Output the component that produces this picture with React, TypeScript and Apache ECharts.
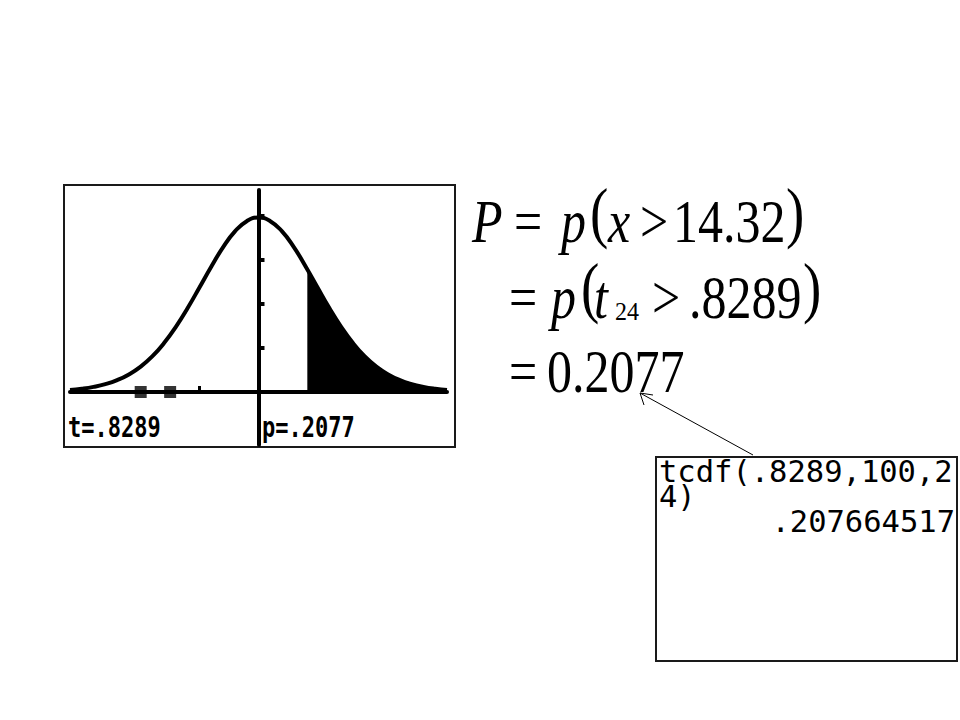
import React, { useEffect, useRef } from "react";
import * as echarts from "echarts";

// t values (graph screen, window -3.2 .. 3.2) and the density
const tValues = [
  -3.2, -3.0, -2.8, -2.6, -2.4, -2.2, -2.0, -1.8, -1.6, -1.4, -1.2, -1.0, -0.8, -0.6, -0.4, -0.2,
  0, 0.2, 0.4, 0.6, 0.8, 1.0, 1.2, 1.4, 1.6, 1.8, 2.0, 2.2, 2.4, 2.6, 2.8, 3.0, 3.2,
];
const densityValues = [
  0.0047, 0.0074, 0.0116, 0.0178, 0.0269, 0.0399, 0.0577, 0.0814, 0.1117, 0.1486, 0.1913, 0.238,
  0.2853, 0.3291, 0.3648, 0.3882, 0.3964, 0.3882, 0.3648, 0.3291, 0.2853, 0.238, 0.1913, 0.1486,
  0.1117, 0.0814, 0.0577, 0.0399, 0.0269, 0.0178, 0.0116, 0.0074, 0.0047,
];
const shadeStartT = 0.8289;
const shadeStartDensity = 0.2786;
const xTickValues = [-1];
const squareMarks = [-2, -1.5];
const yTickValues = [0.1, 0.2, 0.3, 0.4];
const tLabel = "t=.8289";
const pLabel = "p=.2077";
const calcLines = ["tcdf(.8289,100,2", "4)", ".207664517"];

const SERIF = "'Liberation Serif', 'Times New Roman', serif";
const MONO = "'DejaVu Sans Mono', 'Liberation Mono', monospace";

type TOpts = {
  fs: number;
  sy?: number;
  sx?: number;
  family?: string;
  italic?: boolean;
  bold?: boolean;
  align?: string;
  lh?: number;
};

const txt = (text: string, x: number, y: number, o: TOpts) => ({
  type: "text",
  x,
  y,
  scaleX: o.sx ?? 1,
  scaleY: o.sy ?? 1,
  silent: true,
  style: {
    text,
    x: 0,
    y: 0,
    fill: "#000",
    fontSize: o.fs,
    fontFamily: o.family ?? SERIF,
    fontStyle: o.italic ? "italic" : "normal",
    fontWeight: o.bold ? "bold" : "normal",
    align: o.align ?? "left",
    textAlign: o.align ?? "left",
    verticalAlign: "middle",
    textVerticalAlign: "middle",
    ...(o.lh ? { lineHeight: o.lh } : {}),
  },
});

export default function App() {
  const ref = useRef<HTMLDivElement>(null);

  useEffect(() => {
    if (!ref.current) return;
    const chart = echarts.init(ref.current, undefined, { renderer: "svg" });

    const curveData = tValues.map((t, i) => [t, densityValues[i]]);
    const shadeData = [[shadeStartT, shadeStartDensity]].concat(
      tValues.filter((t) => t > shadeStartT).map((t) => [t, densityValues[tValues.indexOf(t)]])
    );

    const F = 50;
    const SY = 1.22;
    const PF = 55;
    // calculator home-screen font: small size, scaled up
    const CF = 21;
    const CS = 30.5 / 21;

    const graphics: any[] = [
      // calculator graph screen frame
      {
        type: "rect",
        shape: { x: 64, y: 185, width: 391, height: 262 },
        style: { fill: "none", stroke: "#1a1a1a", lineWidth: 2 },
        silent: true,
      },
      txt(tLabel, 68, 428, { fs: 22, sy: 1.25, family: MONO, bold: true }),
      txt(pLabel, 262, 428, { fs: 22, sy: 1.25, family: MONO, bold: true }),

      // formula line 1
      txt("P", 472, 221.4, { fs: F, sy: SY, italic: true }),
      txt("=", 514, 221.4, { fs: F, sy: SY }),
      txt("p", 561, 221.4, { fs: F, sy: SY, italic: true }),
      txt("(", 590, 212, { fs: PF, sy: SY }),
      txt("x", 608, 221.4, { fs: F, sy: SY, italic: true }),
      txt(">", 640, 221.4, { fs: F, sy: SY }),
      txt("14.32", 673, 221.4, { fs: F, sy: SY }),
      txt(")", 786, 212, { fs: PF, sy: SY }),

      // formula line 2
      txt("=", 509, 297.4, { fs: F, sy: SY }),
      txt("p", 551, 297.4, { fs: F, sy: SY, italic: true }),
      txt("(", 581, 287, { fs: PF, sy: SY }),
      txt("t", 594, 297.4, { fs: F, sy: SY, italic: true }),
      txt("24", 615, 311.5, { fs: 24, sy: 1.05 }),
      txt(">", 652, 297.4, { fs: F, sy: SY }),
      txt(".8289", 689, 297.4, { fs: F, sy: SY }),
      txt(")", 803, 287, { fs: PF, sy: SY }),

      // formula line 3
      txt("=", 509, 371.4, { fs: F, sy: SY }),
      txt("0.2077", 547, 371.4, { fs: F, sy: SY }),

      // arrow
      {
        type: "line",
        shape: { x1: 753, y1: 455, x2: 640, y2: 393 },
        style: { stroke: "#000", lineWidth: 1 },
        silent: true,
      },
      {
        type: "polyline",
        shape: { points: [[653, 395], [640, 393], [644, 405]] },
        style: { stroke: "#000", lineWidth: 1, fill: "none" },
        silent: true,
      },

      // calculator home screen
      {
        type: "rect",
        shape: { x: 656, y: 457, width: 301, height: 204 },
        style: { fill: "none", stroke: "#1a1a1a", lineWidth: 2 },
        silent: true,
      },
      txt(calcLines[0], 659, 471, { fs: CF, sx: CS, sy: CS, family: MONO }),
      txt(calcLines[1], 659, 496, { fs: CF, sx: CS, sy: CS, family: MONO }),
      txt(calcLines[2], 955, 521, { fs: CF, sx: CS, sy: CS, family: MONO, align: "right" }),
    ];

    chart.setOption({
      animation: false,
      backgroundColor: "#fff",
      grid: { left: 70, right: 513, top: 190, bottom: 275, containLabel: false },
      xAxis: {
        type: "value",
        min: -3.2,
        max: 3.2,
        axisLine: { onZero: true, lineStyle: { color: "#000", width: 4 } },
        axisTick: {
          show: true,
          inside: true,
          length: 6,
          customValues: xTickValues,
          lineStyle: { color: "#000", width: 3 },
        },
        axisLabel: { show: false },
        splitLine: { show: false },
      },
      yAxis: {
        type: "value",
        min: -0.1205,
        max: 0.459,
        axisLine: { show: true, onZero: true, lineStyle: { color: "#000", width: 4 } },
        axisTick: {
          show: true,
          inside: true,
          length: 6,
          customValues: yTickValues,
          lineStyle: { color: "#000", width: 4 },
        },
        axisLabel: { show: false },
        splitLine: { show: false },
      },
      series: [
        {
          type: "line",
          name: "shade",
          data: shadeData,
          smooth: true,
          symbol: "none",
          lineStyle: { width: 0 },
          areaStyle: { color: "#000", opacity: 1 },
          z: 2,
        },
        {
          type: "line",
          name: "curve",
          data: curveData,
          smooth: true,
          symbol: "none",
          lineStyle: { color: "#000", width: 4 },
          z: 3,
        },
        {
          type: "scatter",
          name: "marks",
          data: squareMarks.map((t) => [t, 0]),
          symbol: "rect",
          symbolSize: [12, 12],
          itemStyle: { color: "#000" },
          z: 4,
        },
      ],
      graphic: { elements: graphics },
    });

    return () => chart.dispose();
  }, []);

  return (
    <div
      ref={ref}
      style={{ position: "absolute", left: 0, top: 0, width: 960, height: 720, background: "#fff" }}
    />
  );
}
